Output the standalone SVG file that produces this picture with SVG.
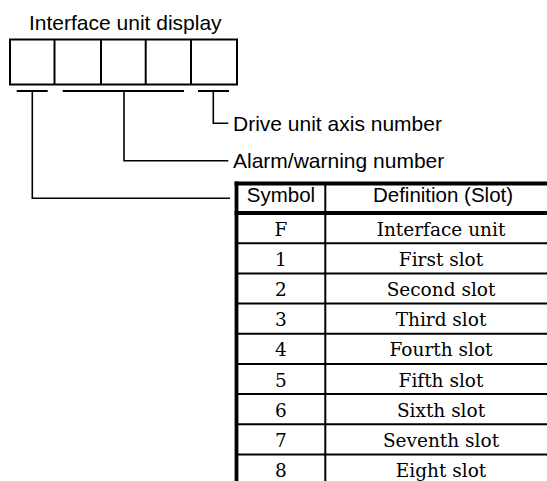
<svg xmlns="http://www.w3.org/2000/svg" width="547" height="481" viewBox="0 0 547 481">
<style>
.sans{font-family:"Liberation Sans",Arial,sans-serif;fill:#000}
.serif{font-family:"DejaVu Serif","Liberation Serif",serif;font-size:18.5px;fill:#000;text-anchor:middle}
.box{fill:#fff;stroke:#000;stroke-width:2}
.conn{fill:none;stroke:#000;stroke-width:1.6}
.bar{stroke:#000;stroke-width:2}
.thick{stroke:#000;stroke-width:3.8}
.thin{stroke:#000;stroke-width:2}
</style>
<rect width="547" height="481" fill="#fff"/>
<g id="display">
<text class="sans" x="29" y="30" font-size="21">Interface unit display</text>
<rect class="box" x="10" y="39.5" width="227" height="45"/>
<line class="bar" x1="54.5" y1="39.5" x2="54.5" y2="84.5"/>
<line class="bar" x1="101" y1="39.5" x2="101" y2="84.5"/>
<line class="bar" x1="145.7" y1="39.5" x2="145.7" y2="84.5"/>
<line class="bar" x1="191" y1="39.5" x2="191" y2="84.5"/>
<line class="bar" x1="16.7" y1="91" x2="47.7" y2="91"/>
<line class="bar" x1="62.7" y1="91" x2="184" y2="91"/>
<line class="bar" x1="198" y1="91" x2="229" y2="91"/>
</g>
<g id="connectors">
<polyline class="conn" points="213.3,91 213.3,123.3 228.3,123.3"/>
<polyline class="conn" points="124,91 124,160.7 228.3,160.7"/>
<polyline class="conn" points="32.3,91 32.3,198.3 230,198.3"/>
</g>
<g id="label-axis">
<text class="sans" x="233" y="130.7" font-size="21">Drive unit axis number</text>
</g>
<g id="label-alarm">
<text class="sans" x="233" y="167.7" font-size="21">Alarm/warning number</text>
</g>
<g id="table">
<line class="thick" x1="236.5" y1="181.6" x2="236.5" y2="481"/>
<line class="thick" x1="234.6" y1="183.5" x2="560" y2="183.5"/>
<line class="thick" x1="234.6" y1="213" x2="560" y2="213"/>
<line class="thin" x1="325.3" y1="183.5" x2="325.3" y2="481"/>
<line class="thin" x1="236.5" y1="243.3" x2="560" y2="243.3"/>
<line class="thin" x1="236.5" y1="273.5" x2="560" y2="273.5"/>
<line class="thin" x1="236.5" y1="303.6" x2="560" y2="303.6"/>
<line class="thin" x1="236.5" y1="333.8" x2="560" y2="333.8"/>
<line class="thin" x1="236.5" y1="363.9" x2="560" y2="363.9"/>
<line class="thin" x1="236.5" y1="394.1" x2="560" y2="394.1"/>
<line class="thin" x1="236.5" y1="424.2" x2="560" y2="424.2"/>
<line class="thin" x1="236.5" y1="454.4" x2="560" y2="454.4"/>
<text class="sans" x="281" y="202" font-size="20.5" text-anchor="middle">Symbol</text>
<text class="sans" x="443" y="202" font-size="20.5" text-anchor="middle">Definition (Slot)</text>
<text class="serif" x="281" y="235.7">F</text>
<text class="serif" x="441" y="235.7">Interface unit</text>
<text class="serif" x="281" y="265.9">1</text>
<text class="serif" x="441" y="265.9">First slot</text>
<text class="serif" x="281" y="296">2</text>
<text class="serif" x="441" y="296">Second slot</text>
<text class="serif" x="281" y="326.2">3</text>
<text class="serif" x="441" y="326.2">Third slot</text>
<text class="serif" x="281" y="356.3">4</text>
<text class="serif" x="441" y="356.3">Fourth slot</text>
<text class="serif" x="281" y="386.5">5</text>
<text class="serif" x="441" y="386.5">Fifth slot</text>
<text class="serif" x="281" y="416.6">6</text>
<text class="serif" x="441" y="416.6">Sixth slot</text>
<text class="serif" x="281" y="446.8">7</text>
<text class="serif" x="441" y="446.8">Seventh slot</text>
<text class="serif" x="281" y="476.9">8</text>
<text class="serif" x="441" y="476.9">Eight slot</text>
</g>
</svg>
